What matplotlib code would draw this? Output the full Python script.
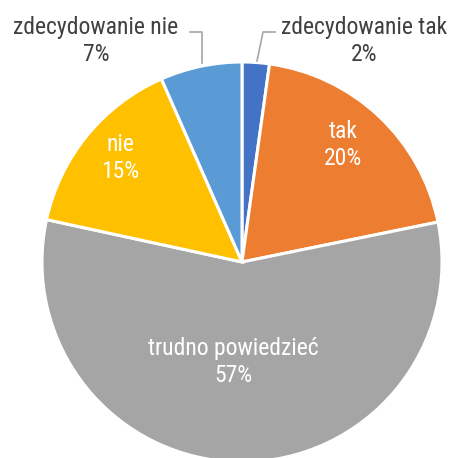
import matplotlib
matplotlib.use("Agg")
import matplotlib.pyplot as plt
from matplotlib import font_manager
import numpy as np

categories = ["zdecydowanie tak", "tak", "trudno powiedzieć", "nie", "zdecydowanie nie"]
values = [2.2, 19.6, 56.6, 15.0, 6.6]
pct_labels = ["2%", "20%", "57%", "15%", "7%"]
colors = ["#4472C4", "#ED7D31", "#A5A5A5", "#FFC000", "#5B9BD5"]

names = {f.name for f in font_manager.fontManager.ttflist}
fam = [f for f in ["Roboto Condensed", "Liberation Sans Narrow", "Roboto", "DejaVu Sans"] if f in names]
plt.rcParams['font.family'] = fam

W, H = 452, 458
fig = plt.figure(figsize=(W/100, H/100), dpi=100)
cx, cy, R = 242, 262, 200
ax = fig.add_axes([(cx - R)/W, (H - cy - R)/H, 2*R/W, 2*R/H])
wedges, _ = ax.pie(values, colors=colors, startangle=90, counterclock=False,
                   wedgeprops=dict(edgecolor="white", linewidth=2.2), radius=1)
ax.set_xlim(-1, 1); ax.set_ylim(-1, 1)
ax.set_aspect("equal")
ax.axis("off")
for w in wedges:
    w.set_clip_on(False)

def p(px, py):
    return ((px - cx)/R, (cy - py)/R)

fs = 17
dark = "#404040"
ls = 1.25
# inner labels
inner = {1: (343, 145), 2: (233, 362), 3: (120, 158)}
for i, (px, py) in inner.items():
    x, y = p(px, py)
    ax.text(x, y, f"{categories[i]}\n{pct_labels[i]}", ha="center", va="center",
            color="white", fontsize=fs, linespacing=ls, clip_on=False)

# outer labels
outer = {0: (364, 41), 4: (96, 41)}
for i, (px, py) in outer.items():
    x, y = p(px, py)
    ax.text(x, y, f"{categories[i]}\n{pct_labels[i]}", ha="center", va="center",
            color=dark, fontsize=fs, linespacing=ls, clip_on=False)

# leader lines
lc = "#A6A6A6"
for pts in [[(257, 61), (263, 32), (275, 32)], [(202, 63), (202, 32), (190, 32)]]:
    xs, ys = zip(*[p(a, b) for a, b in pts])
    ax.plot(xs, ys, color=lc, lw=1.2, clip_on=False)

fig.savefig("out.png", dpi=100)
